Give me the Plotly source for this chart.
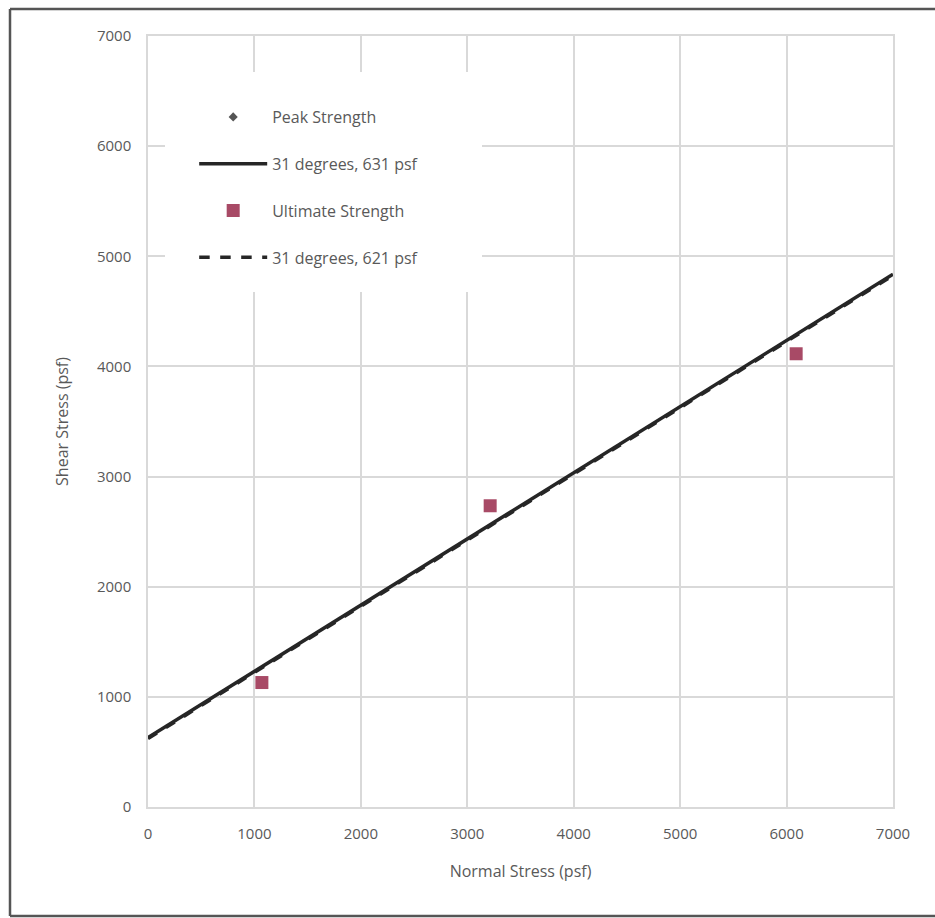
import numpy as np
import plotly.graph_objects as go

# Direct shear test results (psf)
normal_stress = [1070, 3215, 6090]
peak_shear = [1130, 2735, 4115]
ultimate_shear = [1130, 2735, 4115]

# Mohr-Coulomb envelopes: friction angle (deg) and cohesion (psf)
peak_phi, peak_c = 31, 631
ult_phi, ult_c = 31, 621

x_fit = [0, 7000]
peak_line = [peak_c + np.tan(np.radians(peak_phi)) * x for x in x_fit]
ult_line = [ult_c + np.tan(np.radians(ult_phi)) * x for x in x_fit]

x_ticks = [0, 1000, 2000, 3000, 4000, 5000, 6000, 7000]
y_ticks = [0, 1000, 2000, 3000, 4000, 5000, 6000, 7000]

fig = go.Figure()

fig.add_trace(go.Scatter(
    x=normal_stress, y=peak_shear, mode="markers", name="Peak Strength",
    marker=dict(symbol="diamond", size=7, color="#555555"),
    legendgroup="a"))
fig.add_trace(go.Scatter(
    x=x_fit, y=peak_line, mode="lines", name=f"{peak_phi} degrees, {peak_c} psf",
    line=dict(color="#262626", width=3.5), legendgroup="b"))
fig.add_trace(go.Scatter(
    x=normal_stress, y=ultimate_shear, mode="markers", name="Ultimate Strength",
    marker=dict(symbol="square", size=13, color="#a84a66"),
    legendgroup="c"))
fig.add_trace(go.Scatter(
    x=x_fit, y=ult_line, mode="lines", name=f"{ult_phi} degrees, {ult_c} psf",
    line=dict(color="#262626", width=3.5, dash="dash"), legendgroup="d"))

axis_common = dict(
    showgrid=True, gridcolor="#d9d9d9", gridwidth=1.5,
    showline=True, linecolor="#d9d9d9", linewidth=1.5, mirror=True,
    zeroline=False, ticks="", tickfont=dict(size=15, color="#595959"),
    ticklabelstandoff=12,
)

fig.update_layout(
    width=935, height=918,
    margin=dict(l=148, r=42, t=36, b=111),
    paper_bgcolor="white", plot_bgcolor="white",
    font=dict(family="Open Sans, Lato, sans-serif", color="#595959"),
    xaxis=dict(range=[0, 7000], tickvals=x_ticks,
               title=dict(text="Normal Stress (psf)", font=dict(size=16, color="#595959"), standoff=24),
               **axis_common),
    yaxis=dict(range=[0, 7000], tickvals=y_ticks,
               title=dict(text="Shear Stress (psf)", font=dict(size=16, color="#595959"), standoff=24),
               **axis_common),
    legend=dict(x=0.062, y=0.917, xanchor="left", yanchor="top",
                bgcolor="rgba(0,0,0,0)", traceorder="grouped", tracegroupgap=23,
                font=dict(size=16, color="#595959"), itemwidth=68),
    showlegend=True,
)

# White panel behind the legend, covering the gridlines
fig.add_shape(type="rect", xref="paper", yref="paper", layer="above",
              x0=(165 - 148) / 745, x1=(482 - 148) / 745,
              y0=(807 - 292) / 771, y1=(807 - 72) / 771,
              fillcolor="white", line=dict(width=0))

# Outer frame around the chart area
px_w, px_h = 745.0, 771.0
def px_to_paper_x(px):
    return (px - 148) / px_w
def px_to_paper_y(py):
    return (807 - py) / px_h

frame = dict(type="line", xref="paper", yref="paper", line=dict(color="#555555", width=2.5))
fig.add_shape(x0=px_to_paper_x(10), x1=px_to_paper_x(935), y0=px_to_paper_y(9), y1=px_to_paper_y(9), **frame)
fig.add_shape(x0=px_to_paper_x(10), x1=px_to_paper_x(10), y0=px_to_paper_y(9), y1=px_to_paper_y(916), **frame)
fig.add_shape(x0=px_to_paper_x(10), x1=px_to_paper_x(935), y0=px_to_paper_y(916), y1=px_to_paper_y(916), **frame)

fig.write_html("out.html")
